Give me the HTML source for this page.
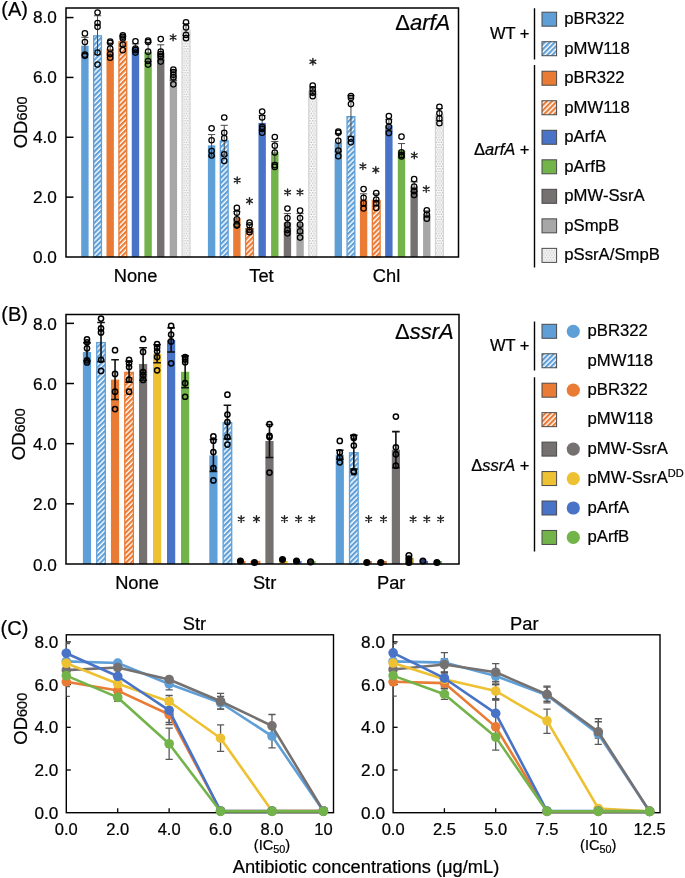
<!DOCTYPE html><html><head><meta charset="utf-8"><style>html,body{margin:0;padding:0;background:#fff}svg{display:block;will-change:transform}text{font-family:"Liberation Sans", sans-serif;fill:#000;stroke:#000;stroke-width:0.22px}</style></head><body>
<svg width="685" height="878" viewBox="0 0 685 878">
<rect width="685" height="878" fill="#fff"/>
<defs>
<pattern id="hb" patternUnits="userSpaceOnUse" width="3.6" height="3.6" patternTransform="rotate(45)"><rect width="3.6" height="3.6" fill="#fff"/><rect width="2.2" height="3.6" fill="#5F9FD8"/></pattern>
<pattern id="ho" patternUnits="userSpaceOnUse" width="3.6" height="3.6" patternTransform="rotate(45)"><rect width="3.6" height="3.6" fill="#fff"/><rect width="2.2" height="3.6" fill="#E97B35"/></pattern>
<pattern id="dots" patternUnits="userSpaceOnUse" width="2.6" height="4.8"><rect width="2.6" height="4.8" fill="#f7f7f7"/><rect x="0.2" y="0.3" width="1.0" height="1.0" fill="#a0a0a0"/><rect x="1.5" y="2.7" width="1.0" height="1.0" fill="#a0a0a0"/></pattern>
<clipPath id="clipL"><rect x="66.3" y="634.8" width="267.2" height="177.9"/></clipPath>
<clipPath id="clipR"><rect x="393.1" y="634.8" width="266.9" height="177.9"/></clipPath>
</defs>
<rect x="81.20" y="45.69" width="7.40" height="211.31" fill="#5F9FD8"/>
<rect x="93.64" y="35.82" width="7.80" height="221.18" fill="url(#hb)" stroke="#5F9FD8" stroke-width="1.3"/>
<rect x="106.48" y="48.99" width="7.40" height="208.01" fill="#E97B35"/>
<rect x="118.92" y="41.80" width="7.80" height="215.20" fill="url(#ho)" stroke="#E97B35" stroke-width="1.3"/>
<rect x="131.76" y="47.49" width="7.40" height="209.51" fill="#4873C6"/>
<rect x="144.40" y="51.98" width="7.40" height="205.02" fill="#72B34A"/>
<rect x="157.04" y="52.58" width="7.40" height="204.42" fill="#767171"/>
<rect x="169.68" y="75.32" width="7.40" height="181.68" fill="#A7A7A7"/>
<rect x="182.02" y="30.03" width="8.00" height="226.97" fill="url(#dots)" stroke="#d4d4d4" stroke-width="1.2"/>
<path d="M84.90 37.31V54.07M81.30 37.31H88.50M81.30 54.07H88.50" stroke="#4a4a4a" stroke-width="1.0" fill="none"/>
<circle cx="84.90" cy="33.42" r="2.7" fill="none" stroke="#000" stroke-width="1.25"/>
<circle cx="84.90" cy="42.10" r="2.7" fill="none" stroke="#000" stroke-width="1.25"/>
<circle cx="84.90" cy="54.67" r="2.7" fill="none" stroke="#000" stroke-width="1.25"/>
<circle cx="84.90" cy="55.87" r="2.7" fill="none" stroke="#000" stroke-width="1.25"/>
<path d="M97.54 15.76V54.67M93.94 15.76H101.14M93.94 54.67H101.14" stroke="#4a4a4a" stroke-width="1.0" fill="none"/>
<circle cx="97.54" cy="12.47" r="2.7" fill="none" stroke="#000" stroke-width="1.25"/>
<circle cx="97.54" cy="22.95" r="2.7" fill="none" stroke="#000" stroke-width="1.25"/>
<circle cx="97.54" cy="26.84" r="2.7" fill="none" stroke="#000" stroke-width="1.25"/>
<circle cx="97.54" cy="52.58" r="2.7" fill="none" stroke="#000" stroke-width="1.25"/>
<circle cx="97.54" cy="64.55" r="2.7" fill="none" stroke="#000" stroke-width="1.25"/>
<path d="M110.18 43.00V54.97M106.58 43.00H113.78M106.58 54.97H113.78" stroke="#4a4a4a" stroke-width="1.0" fill="none"/>
<circle cx="110.18" cy="41.50" r="2.7" fill="none" stroke="#000" stroke-width="1.25"/>
<circle cx="110.18" cy="42.70" r="2.7" fill="none" stroke="#000" stroke-width="1.25"/>
<circle cx="110.18" cy="48.69" r="2.7" fill="none" stroke="#000" stroke-width="1.25"/>
<circle cx="110.18" cy="54.07" r="2.7" fill="none" stroke="#000" stroke-width="1.25"/>
<circle cx="110.18" cy="57.67" r="2.7" fill="none" stroke="#000" stroke-width="1.25"/>
<path d="M122.82 36.12V46.29M119.22 36.12H126.42M119.22 46.29H126.42" stroke="#4a4a4a" stroke-width="1.0" fill="none"/>
<circle cx="122.82" cy="35.22" r="2.7" fill="none" stroke="#000" stroke-width="1.25"/>
<circle cx="122.82" cy="36.72" r="2.7" fill="none" stroke="#000" stroke-width="1.25"/>
<circle cx="122.82" cy="38.51" r="2.7" fill="none" stroke="#000" stroke-width="1.25"/>
<circle cx="122.82" cy="44.50" r="2.7" fill="none" stroke="#000" stroke-width="1.25"/>
<circle cx="122.82" cy="50.18" r="2.7" fill="none" stroke="#000" stroke-width="1.25"/>
<path d="M135.46 43.90V51.08M131.86 43.90H139.06M131.86 51.08H139.06" stroke="#4a4a4a" stroke-width="1.0" fill="none"/>
<circle cx="135.46" cy="41.20" r="2.7" fill="none" stroke="#000" stroke-width="1.25"/>
<circle cx="135.46" cy="48.69" r="2.7" fill="none" stroke="#000" stroke-width="1.25"/>
<circle cx="135.46" cy="50.18" r="2.7" fill="none" stroke="#000" stroke-width="1.25"/>
<circle cx="135.46" cy="52.58" r="2.7" fill="none" stroke="#000" stroke-width="1.25"/>
<path d="M148.10 42.40V61.56M144.50 42.40H151.70M144.50 61.56H151.70" stroke="#4a4a4a" stroke-width="1.0" fill="none"/>
<circle cx="148.10" cy="40.61" r="2.7" fill="none" stroke="#000" stroke-width="1.25"/>
<circle cx="148.10" cy="42.10" r="2.7" fill="none" stroke="#000" stroke-width="1.25"/>
<circle cx="148.10" cy="51.68" r="2.7" fill="none" stroke="#000" stroke-width="1.25"/>
<circle cx="148.10" cy="60.96" r="2.7" fill="none" stroke="#000" stroke-width="1.25"/>
<circle cx="148.10" cy="64.55" r="2.7" fill="none" stroke="#000" stroke-width="1.25"/>
<path d="M160.74 44.80V60.36M157.14 44.80H164.34M157.14 60.36H164.34" stroke="#4a4a4a" stroke-width="1.0" fill="none"/>
<circle cx="160.74" cy="39.11" r="2.7" fill="none" stroke="#000" stroke-width="1.25"/>
<circle cx="160.74" cy="51.68" r="2.7" fill="none" stroke="#000" stroke-width="1.25"/>
<circle cx="160.74" cy="54.07" r="2.7" fill="none" stroke="#000" stroke-width="1.25"/>
<circle cx="160.74" cy="56.47" r="2.7" fill="none" stroke="#000" stroke-width="1.25"/>
<circle cx="160.74" cy="61.56" r="2.7" fill="none" stroke="#000" stroke-width="1.25"/>
<path d="M173.38 70.24V80.41M169.78 70.24H176.98M169.78 80.41H176.98" stroke="#4a4a4a" stroke-width="1.0" fill="none"/>
<circle cx="173.38" cy="69.64" r="2.7" fill="none" stroke="#000" stroke-width="1.25"/>
<circle cx="173.38" cy="72.03" r="2.7" fill="none" stroke="#000" stroke-width="1.25"/>
<circle cx="173.38" cy="74.73" r="2.7" fill="none" stroke="#000" stroke-width="1.25"/>
<circle cx="173.38" cy="77.42" r="2.7" fill="none" stroke="#000" stroke-width="1.25"/>
<circle cx="173.38" cy="84.30" r="2.7" fill="none" stroke="#000" stroke-width="1.25"/>
<path d="M186.02 23.55V35.52M182.42 23.55H189.62M182.42 35.52H189.62" stroke="#4a4a4a" stroke-width="1.0" fill="none"/>
<circle cx="186.02" cy="22.35" r="2.7" fill="none" stroke="#000" stroke-width="1.25"/>
<circle cx="186.02" cy="27.44" r="2.7" fill="none" stroke="#000" stroke-width="1.25"/>
<circle cx="186.02" cy="34.92" r="2.7" fill="none" stroke="#000" stroke-width="1.25"/>
<circle cx="186.02" cy="38.21" r="2.7" fill="none" stroke="#000" stroke-width="1.25"/>
<rect x="207.90" y="145.36" width="7.40" height="111.64" fill="#5F9FD8"/>
<rect x="220.34" y="140.87" width="7.80" height="116.13" fill="url(#hb)" stroke="#5F9FD8" stroke-width="1.3"/>
<rect x="233.18" y="218.09" width="7.40" height="38.91" fill="#E97B35"/>
<rect x="245.62" y="228.57" width="7.80" height="28.43" fill="url(#ho)" stroke="#E97B35" stroke-width="1.3"/>
<rect x="258.46" y="122.91" width="7.40" height="134.09" fill="#4873C6"/>
<rect x="271.10" y="152.25" width="7.40" height="104.75" fill="#72B34A"/>
<rect x="283.74" y="222.58" width="7.40" height="34.42" fill="#767171"/>
<rect x="296.38" y="223.48" width="7.40" height="33.52" fill="#A7A7A7"/>
<rect x="308.72" y="91.09" width="8.00" height="165.91" fill="url(#dots)" stroke="#d4d4d4" stroke-width="1.2"/>
<path d="M211.60 134.59V156.14M208.00 134.59H215.20M208.00 156.14H215.20" stroke="#4a4a4a" stroke-width="1.0" fill="none"/>
<circle cx="211.60" cy="128.30" r="2.7" fill="none" stroke="#000" stroke-width="1.25"/>
<circle cx="211.60" cy="140.27" r="2.7" fill="none" stroke="#000" stroke-width="1.25"/>
<circle cx="211.60" cy="151.05" r="2.7" fill="none" stroke="#000" stroke-width="1.25"/>
<circle cx="211.60" cy="155.54" r="2.7" fill="none" stroke="#000" stroke-width="1.25"/>
<path d="M224.24 125.31V155.24M220.64 125.31H227.84M220.64 155.24H227.84" stroke="#4a4a4a" stroke-width="1.0" fill="none"/>
<circle cx="224.24" cy="117.53" r="2.7" fill="none" stroke="#000" stroke-width="1.25"/>
<circle cx="224.24" cy="132.79" r="2.7" fill="none" stroke="#000" stroke-width="1.25"/>
<circle cx="224.24" cy="138.18" r="2.7" fill="none" stroke="#000" stroke-width="1.25"/>
<circle cx="224.24" cy="154.34" r="2.7" fill="none" stroke="#000" stroke-width="1.25"/>
<circle cx="224.24" cy="160.92" r="2.7" fill="none" stroke="#000" stroke-width="1.25"/>
<path d="M236.88 211.51V224.68M233.28 211.51H240.48M233.28 224.68H240.48" stroke="#4a4a4a" stroke-width="1.0" fill="none"/>
<circle cx="236.88" cy="207.91" r="2.7" fill="none" stroke="#000" stroke-width="1.25"/>
<circle cx="236.88" cy="212.70" r="2.7" fill="none" stroke="#000" stroke-width="1.25"/>
<circle cx="236.88" cy="219.29" r="2.7" fill="none" stroke="#000" stroke-width="1.25"/>
<circle cx="236.88" cy="224.68" r="2.7" fill="none" stroke="#000" stroke-width="1.25"/>
<circle cx="236.88" cy="225.57" r="2.7" fill="none" stroke="#000" stroke-width="1.25"/>
<path d="M249.52 224.38V231.56M245.92 224.38H253.12M245.92 231.56H253.12" stroke="#4a4a4a" stroke-width="1.0" fill="none"/>
<circle cx="249.52" cy="222.58" r="2.7" fill="none" stroke="#000" stroke-width="1.25"/>
<circle cx="249.52" cy="225.27" r="2.7" fill="none" stroke="#000" stroke-width="1.25"/>
<circle cx="249.52" cy="230.06" r="2.7" fill="none" stroke="#000" stroke-width="1.25"/>
<circle cx="249.52" cy="232.16" r="2.7" fill="none" stroke="#000" stroke-width="1.25"/>
<path d="M262.16 115.43V130.40M258.56 115.43H265.76M258.56 130.40H265.76" stroke="#4a4a4a" stroke-width="1.0" fill="none"/>
<circle cx="262.16" cy="111.54" r="2.7" fill="none" stroke="#000" stroke-width="1.25"/>
<circle cx="262.16" cy="117.53" r="2.7" fill="none" stroke="#000" stroke-width="1.25"/>
<circle cx="262.16" cy="126.80" r="2.7" fill="none" stroke="#000" stroke-width="1.25"/>
<circle cx="262.16" cy="128.90" r="2.7" fill="none" stroke="#000" stroke-width="1.25"/>
<circle cx="262.16" cy="132.79" r="2.7" fill="none" stroke="#000" stroke-width="1.25"/>
<path d="M274.80 141.47V163.02M271.20 141.47H278.40M271.20 163.02H278.40" stroke="#4a4a4a" stroke-width="1.0" fill="none"/>
<circle cx="274.80" cy="136.98" r="2.7" fill="none" stroke="#000" stroke-width="1.25"/>
<circle cx="274.80" cy="145.66" r="2.7" fill="none" stroke="#000" stroke-width="1.25"/>
<circle cx="274.80" cy="152.54" r="2.7" fill="none" stroke="#000" stroke-width="1.25"/>
<circle cx="274.80" cy="165.11" r="2.7" fill="none" stroke="#000" stroke-width="1.25"/>
<circle cx="274.80" cy="166.91" r="2.7" fill="none" stroke="#000" stroke-width="1.25"/>
<path d="M287.44 213.60V231.56M283.84 213.60H291.04M283.84 231.56H291.04" stroke="#4a4a4a" stroke-width="1.0" fill="none"/>
<circle cx="287.44" cy="208.51" r="2.7" fill="none" stroke="#000" stroke-width="1.25"/>
<circle cx="287.44" cy="218.09" r="2.7" fill="none" stroke="#000" stroke-width="1.25"/>
<circle cx="287.44" cy="224.68" r="2.7" fill="none" stroke="#000" stroke-width="1.25"/>
<circle cx="287.44" cy="230.06" r="2.7" fill="none" stroke="#000" stroke-width="1.25"/>
<circle cx="287.44" cy="233.36" r="2.7" fill="none" stroke="#000" stroke-width="1.25"/>
<path d="M300.08 213.60V233.36M296.48 213.60H303.68M296.48 233.36H303.68" stroke="#4a4a4a" stroke-width="1.0" fill="none"/>
<circle cx="300.08" cy="210.61" r="2.7" fill="none" stroke="#000" stroke-width="1.25"/>
<circle cx="300.08" cy="218.09" r="2.7" fill="none" stroke="#000" stroke-width="1.25"/>
<circle cx="300.08" cy="224.68" r="2.7" fill="none" stroke="#000" stroke-width="1.25"/>
<circle cx="300.08" cy="231.26" r="2.7" fill="none" stroke="#000" stroke-width="1.25"/>
<circle cx="300.08" cy="237.55" r="2.7" fill="none" stroke="#000" stroke-width="1.25"/>
<path d="M312.72 87.00V94.18M309.12 87.00H316.32M309.12 94.18H316.32" stroke="#4a4a4a" stroke-width="1.0" fill="none"/>
<circle cx="312.72" cy="85.50" r="2.7" fill="none" stroke="#000" stroke-width="1.25"/>
<circle cx="312.72" cy="89.39" r="2.7" fill="none" stroke="#000" stroke-width="1.25"/>
<circle cx="312.72" cy="92.68" r="2.7" fill="none" stroke="#000" stroke-width="1.25"/>
<circle cx="312.72" cy="96.28" r="2.7" fill="none" stroke="#000" stroke-width="1.25"/>
<rect x="334.60" y="142.37" width="7.40" height="114.63" fill="#5F9FD8"/>
<rect x="347.04" y="116.63" width="7.80" height="140.37" fill="url(#hb)" stroke="#5F9FD8" stroke-width="1.3"/>
<rect x="359.88" y="199.83" width="7.40" height="57.17" fill="#E97B35"/>
<rect x="372.32" y="200.43" width="7.80" height="56.57" fill="url(#ho)" stroke="#E97B35" stroke-width="1.3"/>
<rect x="385.16" y="125.31" width="7.40" height="131.69" fill="#4873C6"/>
<rect x="397.80" y="150.45" width="7.40" height="106.55" fill="#72B34A"/>
<rect x="410.44" y="186.66" width="7.40" height="70.34" fill="#767171"/>
<rect x="423.08" y="213.90" width="7.40" height="43.10" fill="#A7A7A7"/>
<rect x="435.42" y="115.03" width="8.00" height="141.97" fill="url(#dots)" stroke="#d4d4d4" stroke-width="1.2"/>
<path d="M338.30 133.39V151.35M334.70 133.39H341.90M334.70 151.35H341.90" stroke="#4a4a4a" stroke-width="1.0" fill="none"/>
<circle cx="338.30" cy="131.59" r="2.7" fill="none" stroke="#000" stroke-width="1.25"/>
<circle cx="338.30" cy="132.79" r="2.7" fill="none" stroke="#000" stroke-width="1.25"/>
<circle cx="338.30" cy="140.87" r="2.7" fill="none" stroke="#000" stroke-width="1.25"/>
<circle cx="338.30" cy="150.45" r="2.7" fill="none" stroke="#000" stroke-width="1.25"/>
<circle cx="338.30" cy="156.14" r="2.7" fill="none" stroke="#000" stroke-width="1.25"/>
<path d="M350.94 95.38V136.68M347.34 95.38H354.54M347.34 136.68H354.54" stroke="#4a4a4a" stroke-width="1.0" fill="none"/>
<circle cx="350.94" cy="95.98" r="2.7" fill="none" stroke="#000" stroke-width="1.25"/>
<circle cx="350.94" cy="98.07" r="2.7" fill="none" stroke="#000" stroke-width="1.25"/>
<circle cx="350.94" cy="104.06" r="2.7" fill="none" stroke="#000" stroke-width="1.25"/>
<circle cx="350.94" cy="138.78" r="2.7" fill="none" stroke="#000" stroke-width="1.25"/>
<circle cx="350.94" cy="142.37" r="2.7" fill="none" stroke="#000" stroke-width="1.25"/>
<path d="M363.58 193.85V205.82M359.98 193.85H367.18M359.98 205.82H367.18" stroke="#4a4a4a" stroke-width="1.0" fill="none"/>
<circle cx="363.58" cy="189.06" r="2.7" fill="none" stroke="#000" stroke-width="1.25"/>
<circle cx="363.58" cy="197.74" r="2.7" fill="none" stroke="#000" stroke-width="1.25"/>
<circle cx="363.58" cy="203.13" r="2.7" fill="none" stroke="#000" stroke-width="1.25"/>
<circle cx="363.58" cy="208.51" r="2.7" fill="none" stroke="#000" stroke-width="1.25"/>
<path d="M376.22 193.85V205.82M372.62 193.85H379.82M372.62 205.82H379.82" stroke="#4a4a4a" stroke-width="1.0" fill="none"/>
<circle cx="376.22" cy="192.95" r="2.7" fill="none" stroke="#000" stroke-width="1.25"/>
<circle cx="376.22" cy="199.53" r="2.7" fill="none" stroke="#000" stroke-width="1.25"/>
<circle cx="376.22" cy="203.13" r="2.7" fill="none" stroke="#000" stroke-width="1.25"/>
<circle cx="376.22" cy="207.91" r="2.7" fill="none" stroke="#000" stroke-width="1.25"/>
<path d="M388.86 119.32V131.29M385.26 119.32H392.46M385.26 131.29H392.46" stroke="#4a4a4a" stroke-width="1.0" fill="none"/>
<circle cx="388.86" cy="116.03" r="2.7" fill="none" stroke="#000" stroke-width="1.25"/>
<circle cx="388.86" cy="121.42" r="2.7" fill="none" stroke="#000" stroke-width="1.25"/>
<circle cx="388.86" cy="126.80" r="2.7" fill="none" stroke="#000" stroke-width="1.25"/>
<circle cx="388.86" cy="133.09" r="2.7" fill="none" stroke="#000" stroke-width="1.25"/>
<path d="M401.50 143.57V157.33M397.90 143.57H405.10M397.90 157.33H405.10" stroke="#4a4a4a" stroke-width="1.0" fill="none"/>
<circle cx="401.50" cy="136.68" r="2.7" fill="none" stroke="#000" stroke-width="1.25"/>
<circle cx="401.50" cy="152.25" r="2.7" fill="none" stroke="#000" stroke-width="1.25"/>
<circle cx="401.50" cy="154.94" r="2.7" fill="none" stroke="#000" stroke-width="1.25"/>
<circle cx="401.50" cy="156.44" r="2.7" fill="none" stroke="#000" stroke-width="1.25"/>
<path d="M414.14 181.88V191.45M410.54 181.88H417.74M410.54 191.45H417.74" stroke="#4a4a4a" stroke-width="1.0" fill="none"/>
<circle cx="414.14" cy="179.18" r="2.7" fill="none" stroke="#000" stroke-width="1.25"/>
<circle cx="414.14" cy="186.66" r="2.7" fill="none" stroke="#000" stroke-width="1.25"/>
<circle cx="414.14" cy="191.15" r="2.7" fill="none" stroke="#000" stroke-width="1.25"/>
<circle cx="414.14" cy="195.04" r="2.7" fill="none" stroke="#000" stroke-width="1.25"/>
<path d="M426.78 210.91V216.89M423.18 210.91H430.38M423.18 216.89H430.38" stroke="#4a4a4a" stroke-width="1.0" fill="none"/>
<circle cx="426.78" cy="210.31" r="2.7" fill="none" stroke="#000" stroke-width="1.25"/>
<circle cx="426.78" cy="214.50" r="2.7" fill="none" stroke="#000" stroke-width="1.25"/>
<circle cx="426.78" cy="218.69" r="2.7" fill="none" stroke="#000" stroke-width="1.25"/>
<path d="M439.42 108.55V120.52M435.82 108.55H443.02M435.82 120.52H443.02" stroke="#4a4a4a" stroke-width="1.0" fill="none"/>
<circle cx="439.42" cy="106.75" r="2.7" fill="none" stroke="#000" stroke-width="1.25"/>
<circle cx="439.42" cy="113.34" r="2.7" fill="none" stroke="#000" stroke-width="1.25"/>
<circle cx="439.42" cy="118.42" r="2.7" fill="none" stroke="#000" stroke-width="1.25"/>
<circle cx="439.42" cy="123.21" r="2.7" fill="none" stroke="#000" stroke-width="1.25"/>
<path d="M173.10 34.10L173.10 40.70M170.24 35.75L175.96 39.05M175.96 35.75L170.24 39.05" stroke="#222" stroke-width="1.4" stroke-linecap="round"/>
<path d="M312.90 58.50L312.90 65.10M310.04 60.15L315.76 63.45M315.76 60.15L310.04 63.45" stroke="#222" stroke-width="1.4" stroke-linecap="round"/>
<path d="M237.20 177.00L237.20 183.60M234.34 178.65L240.06 181.95M240.06 178.65L234.34 181.95" stroke="#222" stroke-width="1.4" stroke-linecap="round"/>
<path d="M249.50 197.60L249.50 204.20M246.64 199.25L252.36 202.55M252.36 199.25L246.64 202.55" stroke="#222" stroke-width="1.4" stroke-linecap="round"/>
<path d="M287.60 188.90L287.60 195.50M284.74 190.55L290.46 193.85M290.46 190.55L284.74 193.85" stroke="#222" stroke-width="1.4" stroke-linecap="round"/>
<path d="M300.00 188.90L300.00 195.50M297.14 190.55L302.86 193.85M302.86 190.55L297.14 193.85" stroke="#222" stroke-width="1.4" stroke-linecap="round"/>
<path d="M362.90 163.00L362.90 169.60M360.04 164.65L365.76 167.95M365.76 164.65L360.04 167.95" stroke="#222" stroke-width="1.4" stroke-linecap="round"/>
<path d="M375.80 166.60L375.80 173.20M372.94 168.25L378.66 171.55M378.66 168.25L372.94 171.55" stroke="#222" stroke-width="1.4" stroke-linecap="round"/>
<path d="M414.30 152.10L414.30 158.70M411.44 153.75L417.16 157.05M417.16 153.75L411.44 157.05" stroke="#222" stroke-width="1.4" stroke-linecap="round"/>
<path d="M426.20 185.70L426.20 192.30M423.34 187.35L429.06 190.65M429.06 187.35L423.34 190.65" stroke="#222" stroke-width="1.4" stroke-linecap="round"/>
<rect x="66" y="8" width="392.5" height="249" fill="none" stroke="#000" stroke-width="1.5"/>
<path d="M66 197.14H73.5" stroke="#000" stroke-width="1.5"/>
<path d="M66 137.28H73.5" stroke="#000" stroke-width="1.5"/>
<path d="M66 77.42H73.5" stroke="#000" stroke-width="1.5"/>
<path d="M66 17.56H73.5" stroke="#000" stroke-width="1.5"/>
<text x="56.80" y="262.90" font-size="17.2" text-anchor="end"  style="">0.0</text>
<text x="56.80" y="203.04" font-size="17.2" text-anchor="end"  style="">2.0</text>
<text x="56.80" y="143.18" font-size="17.2" text-anchor="end"  style="">4.0</text>
<text x="56.80" y="83.32" font-size="17.2" text-anchor="end"  style="">6.0</text>
<text x="56.80" y="23.46" font-size="17.2" text-anchor="end"  style="">8.0</text>
<text x="135.60" y="281.70" font-size="18.3" text-anchor="middle"  style="">None</text>
<text x="261.50" y="281.70" font-size="18.3" text-anchor="middle"  style="">Tet</text>
<text x="386.50" y="281.70" font-size="18.3" text-anchor="middle"  style="">Chl</text>
<text x="450.3" y="29.7" font-size="22" text-anchor="end">Δ<tspan font-style="italic">arfA</tspan></text>
<text transform="translate(26.8,148.3) rotate(-90)" font-size="18.5">OD<tspan font-size="14.5">600</tspan></text>
<text x="1.30" y="15.70" font-size="20" text-anchor="start"  style="">(A)</text>
<path d="M534.5 8.3V59.5M534.5 65V267.6" stroke="#000" stroke-width="1.4"/>
<text x="529.50" y="38.50" font-size="16.5" text-anchor="end"  style="">WT +</text>
<text x="529.5" y="154.6" font-size="16.5" text-anchor="end">Δ<tspan font-style="italic">arfA</tspan> +</text>
<rect x="542" y="12.20" width="14.6" height="14" fill="#5F9FD8" stroke="#4a4a4a" stroke-width="1"/>
<text x="564.3" y="24.00" font-size="16.7">pBR322</text>
<rect x="542" y="41.72" width="14.6" height="14" fill="url(#hb)" stroke="#4a4a4a" stroke-width="1"/>
<text x="564.3" y="53.52" font-size="16.7">pMW118</text>
<rect x="542" y="71.24" width="14.6" height="14" fill="#E97B35" stroke="#4a4a4a" stroke-width="1"/>
<text x="564.3" y="83.04" font-size="16.7">pBR322</text>
<rect x="542" y="100.76" width="14.6" height="14" fill="url(#ho)" stroke="#4a4a4a" stroke-width="1"/>
<text x="564.3" y="112.56" font-size="16.7">pMW118</text>
<rect x="542" y="130.28" width="14.6" height="14" fill="#4873C6" stroke="#4a4a4a" stroke-width="1"/>
<text x="564.3" y="142.08" font-size="16.7">pArfA</text>
<rect x="542" y="159.80" width="14.6" height="14" fill="#72B34A" stroke="#4a4a4a" stroke-width="1"/>
<text x="564.3" y="171.60" font-size="16.7">pArfB</text>
<rect x="542" y="189.32" width="14.6" height="14" fill="#767171" stroke="#4a4a4a" stroke-width="1"/>
<text x="564.3" y="201.12" font-size="16.7">pMW-SsrA</text>
<rect x="542" y="218.84" width="14.6" height="14" fill="#A7A7A7" stroke="#4a4a4a" stroke-width="1"/>
<text x="564.3" y="230.64" font-size="16.7">pSmpB</text>
<rect x="542" y="248.36" width="14.6" height="14" fill="url(#dots)" stroke="#4a4a4a" stroke-width="1"/>
<text x="564.3" y="260.16" font-size="16.7">pSsrA/SmpB</text>
<rect x="82.90" y="351.94" width="8.20" height="212.06" fill="#5F9FD8"/>
<rect x="96.72" y="342.61" width="8.60" height="221.39" fill="url(#hb)" stroke="#5F9FD8" stroke-width="1.3"/>
<rect x="110.94" y="379.61" width="8.20" height="184.39" fill="#E97B35"/>
<rect x="124.76" y="372.39" width="8.60" height="191.61" fill="url(#ho)" stroke="#E97B35" stroke-width="1.3"/>
<rect x="138.98" y="363.97" width="8.20" height="200.03" fill="#767171"/>
<rect x="153.00" y="353.74" width="8.20" height="210.26" fill="#EEC132"/>
<rect x="167.02" y="339.90" width="8.20" height="224.10" fill="#4873C6"/>
<rect x="181.04" y="371.79" width="8.20" height="192.21" fill="#72B34A"/>
<path d="M87.00 342.91V360.96M83.20 342.91H90.80M83.20 360.96H90.80" stroke="#111" stroke-width="1.6" fill="none"/>
<circle cx="87.00" cy="339.30" r="2.6" fill="none" stroke="#000" stroke-width="1.5"/>
<circle cx="87.00" cy="342.31" r="2.6" fill="none" stroke="#000" stroke-width="1.5"/>
<circle cx="87.00" cy="348.33" r="2.6" fill="none" stroke="#000" stroke-width="1.5"/>
<circle cx="87.00" cy="360.36" r="2.6" fill="none" stroke="#000" stroke-width="1.5"/>
<circle cx="87.00" cy="362.46" r="2.6" fill="none" stroke="#000" stroke-width="1.5"/>
<path d="M101.02 322.46V361.56M97.22 322.46H104.82M97.22 361.56H104.82" stroke="#111" stroke-width="1.6" fill="none"/>
<circle cx="101.02" cy="318.55" r="2.6" fill="none" stroke="#000" stroke-width="1.5"/>
<circle cx="101.02" cy="328.47" r="2.6" fill="none" stroke="#000" stroke-width="1.5"/>
<circle cx="101.02" cy="332.38" r="2.6" fill="none" stroke="#000" stroke-width="1.5"/>
<circle cx="101.02" cy="359.76" r="2.6" fill="none" stroke="#000" stroke-width="1.5"/>
<circle cx="101.02" cy="370.89" r="2.6" fill="none" stroke="#000" stroke-width="1.5"/>
<path d="M115.04 359.76V399.46M111.24 359.76H118.84M111.24 399.46H118.84" stroke="#111" stroke-width="1.6" fill="none"/>
<circle cx="115.04" cy="350.13" r="2.6" fill="none" stroke="#000" stroke-width="1.5"/>
<circle cx="115.04" cy="373.89" r="2.6" fill="none" stroke="#000" stroke-width="1.5"/>
<circle cx="115.04" cy="391.64" r="2.6" fill="none" stroke="#000" stroke-width="1.5"/>
<circle cx="115.04" cy="409.09" r="2.6" fill="none" stroke="#000" stroke-width="1.5"/>
<path d="M129.06 361.26V382.32M125.26 361.26H132.86M125.26 382.32H132.86" stroke="#111" stroke-width="1.6" fill="none"/>
<circle cx="129.06" cy="359.76" r="2.6" fill="none" stroke="#000" stroke-width="1.5"/>
<circle cx="129.06" cy="363.37" r="2.6" fill="none" stroke="#000" stroke-width="1.5"/>
<circle cx="129.06" cy="366.98" r="2.6" fill="none" stroke="#000" stroke-width="1.5"/>
<circle cx="129.06" cy="379.61" r="2.6" fill="none" stroke="#000" stroke-width="1.5"/>
<circle cx="129.06" cy="391.64" r="2.6" fill="none" stroke="#000" stroke-width="1.5"/>
<path d="M143.08 347.72V380.21M139.28 347.72H146.88M139.28 380.21H146.88" stroke="#111" stroke-width="1.6" fill="none"/>
<circle cx="143.08" cy="339.00" r="2.6" fill="none" stroke="#000" stroke-width="1.5"/>
<circle cx="143.08" cy="351.94" r="2.6" fill="none" stroke="#000" stroke-width="1.5"/>
<circle cx="143.08" cy="372.09" r="2.6" fill="none" stroke="#000" stroke-width="1.5"/>
<circle cx="143.08" cy="375.10" r="2.6" fill="none" stroke="#000" stroke-width="1.5"/>
<circle cx="143.08" cy="379.91" r="2.6" fill="none" stroke="#000" stroke-width="1.5"/>
<path d="M157.10 344.72V362.76M153.30 344.72H160.90M153.30 362.76H160.90" stroke="#111" stroke-width="1.6" fill="none"/>
<circle cx="157.10" cy="344.12" r="2.6" fill="none" stroke="#000" stroke-width="1.5"/>
<circle cx="157.10" cy="347.72" r="2.6" fill="none" stroke="#000" stroke-width="1.5"/>
<circle cx="157.10" cy="351.33" r="2.6" fill="none" stroke="#000" stroke-width="1.5"/>
<circle cx="157.10" cy="357.05" r="2.6" fill="none" stroke="#000" stroke-width="1.5"/>
<circle cx="157.10" cy="370.28" r="2.6" fill="none" stroke="#000" stroke-width="1.5"/>
<path d="M171.12 327.87V351.94M167.32 327.87H174.92M167.32 351.94H174.92" stroke="#111" stroke-width="1.6" fill="none"/>
<circle cx="171.12" cy="325.77" r="2.6" fill="none" stroke="#000" stroke-width="1.5"/>
<circle cx="171.12" cy="334.49" r="2.6" fill="none" stroke="#000" stroke-width="1.5"/>
<circle cx="171.12" cy="341.41" r="2.6" fill="none" stroke="#000" stroke-width="1.5"/>
<circle cx="171.12" cy="363.37" r="2.6" fill="none" stroke="#000" stroke-width="1.5"/>
<path d="M185.14 355.85V387.73M181.34 355.85H188.94M181.34 387.73H188.94" stroke="#111" stroke-width="1.6" fill="none"/>
<circle cx="185.14" cy="357.05" r="2.6" fill="none" stroke="#000" stroke-width="1.5"/>
<circle cx="185.14" cy="359.46" r="2.6" fill="none" stroke="#000" stroke-width="1.5"/>
<circle cx="185.14" cy="362.16" r="2.6" fill="none" stroke="#000" stroke-width="1.5"/>
<circle cx="185.14" cy="383.22" r="2.6" fill="none" stroke="#000" stroke-width="1.5"/>
<circle cx="185.14" cy="396.76" r="2.6" fill="none" stroke="#000" stroke-width="1.5"/>
<rect x="209.30" y="455.41" width="8.20" height="108.59" fill="#5F9FD8"/>
<rect x="223.12" y="422.62" width="8.60" height="141.38" fill="url(#hb)" stroke="#5F9FD8" stroke-width="1.3"/>
<rect x="237.34" y="560.99" width="8.20" height="3.01" fill="#E97B35"/>
<rect x="251.16" y="561.59" width="8.60" height="2.41" fill="url(#ho)" stroke="#E97B35" stroke-width="1.3"/>
<rect x="265.38" y="440.97" width="8.20" height="123.03" fill="#767171"/>
<rect x="279.40" y="560.99" width="8.20" height="3.01" fill="#EEC132"/>
<rect x="293.42" y="560.99" width="8.20" height="3.01" fill="#4873C6"/>
<rect x="307.44" y="560.99" width="8.20" height="3.01" fill="#72B34A"/>
<path d="M213.40 439.47V471.35M209.60 439.47H217.20M209.60 471.35H217.20" stroke="#111" stroke-width="1.6" fill="none"/>
<circle cx="213.40" cy="436.46" r="2.6" fill="none" stroke="#000" stroke-width="1.5"/>
<circle cx="213.40" cy="440.67" r="2.6" fill="none" stroke="#000" stroke-width="1.5"/>
<circle cx="213.40" cy="452.10" r="2.6" fill="none" stroke="#000" stroke-width="1.5"/>
<circle cx="213.40" cy="468.04" r="2.6" fill="none" stroke="#000" stroke-width="1.5"/>
<circle cx="213.40" cy="480.38" r="2.6" fill="none" stroke="#000" stroke-width="1.5"/>
<path d="M227.42 405.18V438.87M223.62 405.18H231.22M223.62 438.87H231.22" stroke="#111" stroke-width="1.6" fill="none"/>
<circle cx="227.42" cy="394.65" r="2.6" fill="none" stroke="#000" stroke-width="1.5"/>
<circle cx="227.42" cy="414.50" r="2.6" fill="none" stroke="#000" stroke-width="1.5"/>
<circle cx="227.42" cy="422.02" r="2.6" fill="none" stroke="#000" stroke-width="1.5"/>
<circle cx="227.42" cy="437.06" r="2.6" fill="none" stroke="#000" stroke-width="1.5"/>
<circle cx="227.42" cy="444.58" r="2.6" fill="none" stroke="#000" stroke-width="1.5"/>
<circle cx="240.44" cy="560.99" r="2.8" fill="#000" stroke="#000" stroke-width="1.5"/>
<circle cx="254.46" cy="562.50" r="2.8" fill="#000" stroke="#000" stroke-width="1.5"/>
<path d="M269.48 424.43V457.52M265.68 424.43H273.28M265.68 457.52H273.28" stroke="#111" stroke-width="1.6" fill="none"/>
<circle cx="269.48" cy="424.13" r="2.6" fill="none" stroke="#000" stroke-width="1.5"/>
<circle cx="269.48" cy="435.86" r="2.6" fill="none" stroke="#000" stroke-width="1.5"/>
<circle cx="269.48" cy="437.06" r="2.6" fill="none" stroke="#000" stroke-width="1.5"/>
<circle cx="269.48" cy="472.56" r="2.6" fill="none" stroke="#000" stroke-width="1.5"/>
<circle cx="282.50" cy="559.49" r="2.8" fill="#000" stroke="#000" stroke-width="1.5"/>
<circle cx="296.52" cy="560.99" r="2.8" fill="#000" stroke="#000" stroke-width="1.5"/>
<circle cx="310.54" cy="561.89" r="2.8" fill="#2a2a2a" stroke="#000" stroke-width="1.5"/>
<rect x="335.70" y="454.81" width="8.20" height="109.19" fill="#5F9FD8"/>
<rect x="349.52" y="452.70" width="8.60" height="111.30" fill="url(#hb)" stroke="#5F9FD8" stroke-width="1.3"/>
<rect x="363.74" y="560.99" width="8.20" height="3.01" fill="#E97B35"/>
<rect x="377.56" y="561.59" width="8.60" height="2.41" fill="url(#ho)" stroke="#E97B35" stroke-width="1.3"/>
<rect x="391.78" y="449.70" width="8.20" height="114.30" fill="#767171"/>
<rect x="405.80" y="557.98" width="8.20" height="6.02" fill="#EEC132"/>
<rect x="419.82" y="560.99" width="8.20" height="3.01" fill="#4873C6"/>
<rect x="433.84" y="560.99" width="8.20" height="3.01" fill="#72B34A"/>
<path d="M339.80 450.30V459.32M336.00 450.30H343.60M336.00 459.32H343.60" stroke="#111" stroke-width="1.6" fill="none"/>
<circle cx="339.80" cy="440.97" r="2.6" fill="none" stroke="#000" stroke-width="1.5"/>
<circle cx="339.80" cy="452.40" r="2.6" fill="none" stroke="#000" stroke-width="1.5"/>
<circle cx="339.80" cy="457.52" r="2.6" fill="none" stroke="#000" stroke-width="1.5"/>
<circle cx="339.80" cy="462.33" r="2.6" fill="none" stroke="#000" stroke-width="1.5"/>
<path d="M353.82 435.26V468.95M350.02 435.26H357.62M350.02 468.95H357.62" stroke="#111" stroke-width="1.6" fill="none"/>
<circle cx="353.82" cy="436.76" r="2.6" fill="none" stroke="#000" stroke-width="1.5"/>
<circle cx="353.82" cy="437.96" r="2.6" fill="none" stroke="#000" stroke-width="1.5"/>
<circle cx="353.82" cy="445.48" r="2.6" fill="none" stroke="#000" stroke-width="1.5"/>
<circle cx="353.82" cy="471.35" r="2.6" fill="none" stroke="#000" stroke-width="1.5"/>
<circle cx="353.82" cy="472.26" r="2.6" fill="none" stroke="#000" stroke-width="1.5"/>
<circle cx="366.84" cy="562.50" r="2.8" fill="#000" stroke="#000" stroke-width="1.5"/>
<circle cx="380.86" cy="562.50" r="2.8" fill="#000" stroke="#000" stroke-width="1.5"/>
<path d="M395.88 431.65V467.74M392.08 431.65H399.68M392.08 467.74H399.68" stroke="#111" stroke-width="1.6" fill="none"/>
<circle cx="395.88" cy="416.61" r="2.6" fill="none" stroke="#000" stroke-width="1.5"/>
<circle cx="395.88" cy="447.29" r="2.6" fill="none" stroke="#000" stroke-width="1.5"/>
<circle cx="395.88" cy="454.21" r="2.6" fill="none" stroke="#000" stroke-width="1.5"/>
<circle cx="395.88" cy="465.64" r="2.6" fill="none" stroke="#000" stroke-width="1.5"/>
<circle cx="408.90" cy="555.58" r="2.8" fill="none" stroke="#000" stroke-width="1.5"/>
<circle cx="408.90" cy="558.89" r="2.8" fill="#000" stroke="#000" stroke-width="1.5"/>
<circle cx="408.90" cy="562.50" r="2.8" fill="#000" stroke="#000" stroke-width="1.5"/>
<circle cx="422.92" cy="560.99" r="2.8" fill="#2a3a6a" stroke="#000" stroke-width="1.5"/>
<circle cx="436.94" cy="562.50" r="2.8" fill="#000" stroke="#000" stroke-width="1.5"/>
<path d="M241.20 515.80L241.20 522.40M238.34 517.45L244.06 520.75M244.06 517.45L238.34 520.75" stroke="#222" stroke-width="1.4" stroke-linecap="round"/>
<path d="M256.50 515.80L256.50 522.40M253.64 517.45L259.36 520.75M259.36 517.45L253.64 520.75" stroke="#222" stroke-width="1.4" stroke-linecap="round"/>
<path d="M284.50 515.80L284.50 522.40M281.64 517.45L287.36 520.75M287.36 517.45L281.64 520.75" stroke="#222" stroke-width="1.4" stroke-linecap="round"/>
<path d="M298.60 515.80L298.60 522.40M295.74 517.45L301.46 520.75M301.46 517.45L295.74 520.75" stroke="#222" stroke-width="1.4" stroke-linecap="round"/>
<path d="M311.80 515.80L311.80 522.40M308.94 517.45L314.66 520.75M314.66 517.45L308.94 520.75" stroke="#222" stroke-width="1.4" stroke-linecap="round"/>
<path d="M368.70 515.80L368.70 522.40M365.84 517.45L371.56 520.75M371.56 517.45L365.84 520.75" stroke="#222" stroke-width="1.4" stroke-linecap="round"/>
<path d="M383.50 515.80L383.50 522.40M380.64 517.45L386.36 520.75M386.36 517.45L380.64 520.75" stroke="#222" stroke-width="1.4" stroke-linecap="round"/>
<path d="M413.10 515.80L413.10 522.40M410.24 517.45L415.96 520.75M415.96 517.45L410.24 520.75" stroke="#222" stroke-width="1.4" stroke-linecap="round"/>
<path d="M426.80 515.80L426.80 522.40M423.94 517.45L429.66 520.75M429.66 517.45L423.94 520.75" stroke="#222" stroke-width="1.4" stroke-linecap="round"/>
<path d="M440.60 515.80L440.60 522.40M437.74 517.45L443.46 520.75M443.46 517.45L437.74 520.75" stroke="#222" stroke-width="1.4" stroke-linecap="round"/>
<rect x="66" y="314.5" width="393" height="249.5" fill="none" stroke="#000" stroke-width="1.5"/>
<path d="M66 503.84H74" stroke="#000" stroke-width="1.5"/>
<path d="M66 443.68H74" stroke="#000" stroke-width="1.5"/>
<path d="M66 383.52H74" stroke="#000" stroke-width="1.5"/>
<path d="M66 323.36H74" stroke="#000" stroke-width="1.5"/>
<text x="56.80" y="570.60" font-size="17.2" text-anchor="end"  style="">0.0</text>
<text x="56.80" y="510.44" font-size="17.2" text-anchor="end"  style="">2.0</text>
<text x="56.80" y="450.28" font-size="17.2" text-anchor="end"  style="">4.0</text>
<text x="56.80" y="390.12" font-size="17.2" text-anchor="end"  style="">6.0</text>
<text x="56.80" y="329.96" font-size="17.2" text-anchor="end"  style="">8.0</text>
<text x="137.00" y="588.50" font-size="18.3" text-anchor="middle"  style="">None</text>
<text x="264.60" y="588.50" font-size="18.3" text-anchor="middle"  style="">Str</text>
<text x="391.20" y="588.50" font-size="18.3" text-anchor="middle"  style="">Par</text>
<text x="453.8" y="339" font-size="22" text-anchor="end">Δ<tspan font-style="italic">ssrA</tspan></text>
<text transform="translate(25.3,460.2) rotate(-90)" font-size="18.5">OD<tspan font-size="14.5">600</tspan></text>
<text x="1.30" y="320.80" font-size="20" text-anchor="start"  style="">(B)</text>
<path d="M534.5 321.4V370.6M534.5 377.2V551.4" stroke="#000" stroke-width="1.4"/>
<text x="529.50" y="351.30" font-size="16.5" text-anchor="end"  style="">WT +</text>
<text x="529.5" y="470.5" font-size="16.5" text-anchor="end">Δ<tspan font-style="italic">ssrA</tspan> +</text>
<rect x="542" y="324.30" width="14.6" height="14" fill="#5F9FD8" stroke="#4a4a4a" stroke-width="1"/>
<circle cx="573.3" cy="331.30" r="6.6" fill="#5F9FD8"/>
<text x="587.5" y="336.10" font-size="16.7">pBR322</text>
<rect x="542" y="353.75" width="14.6" height="14" fill="url(#hb)" stroke="#4a4a4a" stroke-width="1"/>
<text x="587.5" y="365.55" font-size="16.7">pMW118</text>
<rect x="542" y="383.20" width="14.6" height="14" fill="#E97B35" stroke="#4a4a4a" stroke-width="1"/>
<circle cx="573.3" cy="390.20" r="6.6" fill="#E97B35"/>
<text x="587.5" y="395.00" font-size="16.7">pBR322</text>
<rect x="542" y="412.65" width="14.6" height="14" fill="url(#ho)" stroke="#4a4a4a" stroke-width="1"/>
<text x="587.5" y="424.45" font-size="16.7">pMW118</text>
<rect x="542" y="442.10" width="14.6" height="14" fill="#767171" stroke="#4a4a4a" stroke-width="1"/>
<circle cx="573.3" cy="449.10" r="6.6" fill="#767171"/>
<text x="587.5" y="453.90" font-size="16.7">pMW-SsrA</text>
<rect x="542" y="471.55" width="14.6" height="14" fill="#EEC132" stroke="#4a4a4a" stroke-width="1"/>
<circle cx="573.3" cy="478.55" r="6.6" fill="#EEC132"/>
<text x="587.5" y="483.35" font-size="16.7">pMW-SsrA<tspan font-size="11" dy="-6">DD</tspan></text>
<rect x="542" y="501.00" width="14.6" height="14" fill="#4873C6" stroke="#4a4a4a" stroke-width="1"/>
<circle cx="573.3" cy="508.00" r="6.6" fill="#4873C6"/>
<text x="587.5" y="512.80" font-size="16.7">pArfA</text>
<rect x="542" y="530.45" width="14.6" height="14" fill="#72B34A" stroke="#4a4a4a" stroke-width="1"/>
<circle cx="573.3" cy="537.45" r="6.6" fill="#72B34A"/>
<text x="587.5" y="542.25" font-size="16.7">pArfB</text>
<rect x="66.3" y="634.8" width="267.2" height="177.9000000000001" fill="none" stroke="#000" stroke-width="1.4"/>
<path d="M66.3 770.00H70.8" stroke="#000" stroke-width="1.3"/>
<path d="M66.3 727.30H70.8" stroke="#000" stroke-width="1.3"/>
<path d="M66.3 684.60H70.8" stroke="#000" stroke-width="1.3"/>
<path d="M66.3 641.90H70.8" stroke="#000" stroke-width="1.3"/>
<path d="M117.72 812.7V808.2" stroke="#000" stroke-width="1.3"/>
<path d="M169.14 812.7V808.2" stroke="#000" stroke-width="1.3"/>
<path d="M220.56 812.7V808.2" stroke="#000" stroke-width="1.3"/>
<path d="M271.98 812.7V808.2" stroke="#000" stroke-width="1.3"/>
<g clip-path="url(#clipL)">
<path d="M66.30 643.61V696.34M62.70 643.61H69.90M62.70 696.34H69.90" stroke="#595959" stroke-width="1.3" fill="none"/>
<path d="M66.30 641.90V686.52M62.70 641.90H69.90M62.70 686.52H69.90" stroke="#595959" stroke-width="1.3" fill="none"/>
<path d="M117.72 693.57V701.25M114.12 693.57H121.32M114.12 701.25H121.32" stroke="#595959" stroke-width="1.3" fill="none"/>
<path d="M169.14 677.98V689.94M165.54 677.98H172.74M165.54 689.94H172.74" stroke="#595959" stroke-width="1.3" fill="none"/>
<path d="M169.14 695.49V707.44M165.54 695.49H172.74M165.54 707.44H172.74" stroke="#595959" stroke-width="1.3" fill="none"/>
<path d="M169.14 698.48V722.39M165.54 698.48H172.74M165.54 722.39H172.74" stroke="#595959" stroke-width="1.3" fill="none"/>
<path d="M169.14 704.46V724.52M165.54 704.46H172.74M165.54 724.52H172.74" stroke="#595959" stroke-width="1.3" fill="none"/>
<path d="M169.14 728.15V759.33M165.54 728.15H172.74M165.54 759.33H172.74" stroke="#595959" stroke-width="1.3" fill="none"/>
<path d="M220.56 693.35V709.15M216.96 693.35H224.16M216.96 709.15H224.16" stroke="#595959" stroke-width="1.3" fill="none"/>
<path d="M220.56 696.34V709.15M216.96 696.34H224.16M216.96 709.15H224.16" stroke="#595959" stroke-width="1.3" fill="none"/>
<path d="M220.56 724.95V751.43M216.96 724.95H224.16M216.96 751.43H224.16" stroke="#595959" stroke-width="1.3" fill="none"/>
<path d="M271.98 714.49V737.12M268.38 714.49H275.58M268.38 737.12H275.58" stroke="#595959" stroke-width="1.3" fill="none"/>
<path d="M271.98 724.74V747.80M268.38 724.74H275.58M268.38 747.80H275.58" stroke="#595959" stroke-width="1.3" fill="none"/>
</g>
<polyline points="66.30,661.33 117.72,663.04 169.14,683.96 220.56,702.75 271.98,736.05 323.40,810.99" fill="none" stroke="#5F9FD8" stroke-width="2.6" stroke-linejoin="round"/>
<circle cx="66.30" cy="661.33" r="4.8" fill="#5F9FD8"/>
<circle cx="117.72" cy="663.04" r="4.8" fill="#5F9FD8"/>
<circle cx="169.14" cy="683.96" r="4.8" fill="#5F9FD8"/>
<circle cx="220.56" cy="702.75" r="4.8" fill="#5F9FD8"/>
<circle cx="271.98" cy="736.05" r="4.8" fill="#5F9FD8"/>
<circle cx="323.40" cy="810.99" r="4.8" fill="#5F9FD8"/>
<polyline points="66.30,681.82 117.72,690.58 169.14,714.49 220.56,810.99 271.98,810.99 323.40,810.99" fill="none" stroke="#E97B35" stroke-width="2.6" stroke-linejoin="round"/>
<circle cx="66.30" cy="681.82" r="4.8" fill="#E97B35"/>
<circle cx="117.72" cy="690.58" r="4.8" fill="#E97B35"/>
<circle cx="169.14" cy="714.49" r="4.8" fill="#E97B35"/>
<circle cx="220.56" cy="810.99" r="4.8" fill="#E97B35"/>
<circle cx="271.98" cy="810.99" r="4.8" fill="#E97B35"/>
<circle cx="323.40" cy="810.99" r="4.8" fill="#E97B35"/>
<polyline points="66.30,670.08 117.72,667.52 169.14,679.48 220.56,701.25 271.98,725.81 323.40,810.99" fill="none" stroke="#767171" stroke-width="2.6" stroke-linejoin="round"/>
<circle cx="66.30" cy="670.08" r="4.8" fill="#767171"/>
<circle cx="117.72" cy="667.52" r="4.8" fill="#767171"/>
<circle cx="169.14" cy="679.48" r="4.8" fill="#767171"/>
<circle cx="220.56" cy="701.25" r="4.8" fill="#767171"/>
<circle cx="271.98" cy="725.81" r="4.8" fill="#767171"/>
<circle cx="323.40" cy="810.99" r="4.8" fill="#767171"/>
<polyline points="66.30,663.25 117.72,683.75 169.14,701.47 220.56,738.19 271.98,810.99 323.40,810.99" fill="none" stroke="#EEC132" stroke-width="2.6" stroke-linejoin="round"/>
<circle cx="66.30" cy="663.25" r="4.8" fill="#EEC132"/>
<circle cx="117.72" cy="683.75" r="4.8" fill="#EEC132"/>
<circle cx="169.14" cy="701.47" r="4.8" fill="#EEC132"/>
<circle cx="220.56" cy="738.19" r="4.8" fill="#EEC132"/>
<circle cx="271.98" cy="810.99" r="4.8" fill="#EEC132"/>
<circle cx="323.40" cy="810.99" r="4.8" fill="#EEC132"/>
<polyline points="66.30,653.22 117.72,676.27 169.14,710.43 220.56,810.99 271.98,810.99 323.40,810.99" fill="none" stroke="#4873C6" stroke-width="2.6" stroke-linejoin="round"/>
<circle cx="66.30" cy="653.22" r="4.8" fill="#4873C6"/>
<circle cx="117.72" cy="676.27" r="4.8" fill="#4873C6"/>
<circle cx="169.14" cy="710.43" r="4.8" fill="#4873C6"/>
<circle cx="220.56" cy="810.99" r="4.8" fill="#4873C6"/>
<circle cx="271.98" cy="810.99" r="4.8" fill="#4873C6"/>
<circle cx="323.40" cy="810.99" r="4.8" fill="#4873C6"/>
<polyline points="66.30,675.63 117.72,697.41 169.14,743.74 220.56,811.42 271.98,811.42 323.40,811.42" fill="none" stroke="#72B34A" stroke-width="2.6" stroke-linejoin="round"/>
<circle cx="66.30" cy="675.63" r="4.8" fill="#72B34A"/>
<circle cx="117.72" cy="697.41" r="4.8" fill="#72B34A"/>
<circle cx="169.14" cy="743.74" r="4.8" fill="#72B34A"/>
<circle cx="220.56" cy="811.42" r="4.8" fill="#72B34A"/>
<circle cx="271.98" cy="811.42" r="4.8" fill="#72B34A"/>
<circle cx="323.40" cy="811.42" r="4.8" fill="#72B34A"/>
<rect x="393.1" y="634.8" width="266.9" height="177.9000000000001" fill="none" stroke="#000" stroke-width="1.4"/>
<path d="M393.1 770.00H397.6" stroke="#000" stroke-width="1.3"/>
<path d="M393.1 727.30H397.6" stroke="#000" stroke-width="1.3"/>
<path d="M393.1 684.60H397.6" stroke="#000" stroke-width="1.3"/>
<path d="M393.1 641.90H397.6" stroke="#000" stroke-width="1.3"/>
<path d="M444.40 812.7V808.2" stroke="#000" stroke-width="1.3"/>
<path d="M495.70 812.7V808.2" stroke="#000" stroke-width="1.3"/>
<path d="M547.00 812.7V808.2" stroke="#000" stroke-width="1.3"/>
<path d="M598.30 812.7V808.2" stroke="#000" stroke-width="1.3"/>
<g clip-path="url(#clipR)">
<path d="M393.10 643.61V696.13M389.50 643.61H396.70M389.50 696.13H396.70" stroke="#595959" stroke-width="1.3" fill="none"/>
<path d="M444.40 652.58V676.49M440.80 652.58H448.00M440.80 676.49H448.00" stroke="#595959" stroke-width="1.3" fill="none"/>
<path d="M444.40 658.98V672.43M440.80 658.98H448.00M440.80 672.43H448.00" stroke="#595959" stroke-width="1.3" fill="none"/>
<path d="M444.40 671.79V688.44M440.80 671.79H448.00M440.80 688.44H448.00" stroke="#595959" stroke-width="1.3" fill="none"/>
<path d="M444.40 673.93V686.74M440.80 673.93H448.00M440.80 686.74H448.00" stroke="#595959" stroke-width="1.3" fill="none"/>
<path d="M444.40 688.87V699.33M440.80 688.87H448.00M440.80 699.33H448.00" stroke="#595959" stroke-width="1.3" fill="none"/>
<path d="M495.70 663.68V681.40M492.10 663.68H499.30M492.10 681.40H499.30" stroke="#595959" stroke-width="1.3" fill="none"/>
<path d="M495.70 671.79V683.11M492.10 671.79H499.30M492.10 683.11H499.30" stroke="#595959" stroke-width="1.3" fill="none"/>
<path d="M495.70 684.60V698.69M492.10 684.60H499.30M492.10 698.69H499.30" stroke="#595959" stroke-width="1.3" fill="none"/>
<path d="M495.70 684.60V700.19M492.10 684.60H499.30M492.10 700.19H499.30" stroke="#595959" stroke-width="1.3" fill="none"/>
<path d="M495.70 699.55V750.14M492.10 699.55H499.30M492.10 750.14H499.30" stroke="#595959" stroke-width="1.3" fill="none"/>
<path d="M547.00 686.09V701.25M543.40 686.09H550.60M543.40 701.25H550.60" stroke="#595959" stroke-width="1.3" fill="none"/>
<path d="M547.00 687.16V702.96M543.40 687.16H550.60M543.40 702.96H550.60" stroke="#595959" stroke-width="1.3" fill="none"/>
<path d="M547.00 709.15V733.28M543.40 709.15H550.60M543.40 733.28H550.60" stroke="#595959" stroke-width="1.3" fill="none"/>
<path d="M598.30 718.76V744.38M594.70 718.76H601.90M594.70 744.38H601.90" stroke="#595959" stroke-width="1.3" fill="none"/>
<path d="M598.30 721.75V737.98M594.70 721.75H601.90M594.70 737.98H601.90" stroke="#595959" stroke-width="1.3" fill="none"/>
</g>
<polyline points="393.10,661.33 444.40,662.61 495.70,676.06 547.00,695.28 598.30,733.92 649.60,811.42" fill="none" stroke="#5F9FD8" stroke-width="2.6" stroke-linejoin="round"/>
<circle cx="393.10" cy="661.33" r="4.8" fill="#5F9FD8"/>
<circle cx="444.40" cy="662.61" r="4.8" fill="#5F9FD8"/>
<circle cx="495.70" cy="676.06" r="4.8" fill="#5F9FD8"/>
<circle cx="547.00" cy="695.28" r="4.8" fill="#5F9FD8"/>
<circle cx="598.30" cy="733.92" r="4.8" fill="#5F9FD8"/>
<circle cx="649.60" cy="811.42" r="4.8" fill="#5F9FD8"/>
<polyline points="393.10,681.82 444.40,683.11 495.70,726.87 547.00,811.42 598.30,811.42 649.60,811.42" fill="none" stroke="#E97B35" stroke-width="2.6" stroke-linejoin="round"/>
<circle cx="393.10" cy="681.82" r="4.8" fill="#E97B35"/>
<circle cx="444.40" cy="683.11" r="4.8" fill="#E97B35"/>
<circle cx="495.70" cy="726.87" r="4.8" fill="#E97B35"/>
<circle cx="547.00" cy="811.42" r="4.8" fill="#E97B35"/>
<circle cx="598.30" cy="811.42" r="4.8" fill="#E97B35"/>
<circle cx="649.60" cy="811.42" r="4.8" fill="#E97B35"/>
<polyline points="393.10,669.44 444.40,664.53 495.70,672.22 547.00,694.42 598.30,731.78 649.60,811.42" fill="none" stroke="#767171" stroke-width="2.6" stroke-linejoin="round"/>
<circle cx="393.10" cy="669.44" r="4.8" fill="#767171"/>
<circle cx="444.40" cy="664.53" r="4.8" fill="#767171"/>
<circle cx="495.70" cy="672.22" r="4.8" fill="#767171"/>
<circle cx="547.00" cy="694.42" r="4.8" fill="#767171"/>
<circle cx="598.30" cy="731.78" r="4.8" fill="#767171"/>
<circle cx="649.60" cy="811.42" r="4.8" fill="#767171"/>
<polyline points="393.10,663.04 444.40,679.26 495.70,691.00 547.00,720.89 598.30,808.43 649.60,811.42" fill="none" stroke="#EEC132" stroke-width="2.6" stroke-linejoin="round"/>
<circle cx="393.10" cy="663.04" r="4.8" fill="#EEC132"/>
<circle cx="444.40" cy="679.26" r="4.8" fill="#EEC132"/>
<circle cx="495.70" cy="691.00" r="4.8" fill="#EEC132"/>
<circle cx="547.00" cy="720.89" r="4.8" fill="#EEC132"/>
<circle cx="598.30" cy="808.43" r="4.8" fill="#EEC132"/>
<circle cx="649.60" cy="811.42" r="4.8" fill="#EEC132"/>
<polyline points="393.10,652.79 444.40,678.20 495.70,713.42 547.00,810.99 598.30,810.99 649.60,811.42" fill="none" stroke="#4873C6" stroke-width="2.6" stroke-linejoin="round"/>
<circle cx="393.10" cy="652.79" r="4.8" fill="#4873C6"/>
<circle cx="444.40" cy="678.20" r="4.8" fill="#4873C6"/>
<circle cx="495.70" cy="713.42" r="4.8" fill="#4873C6"/>
<circle cx="547.00" cy="810.99" r="4.8" fill="#4873C6"/>
<circle cx="598.30" cy="810.99" r="4.8" fill="#4873C6"/>
<circle cx="649.60" cy="811.42" r="4.8" fill="#4873C6"/>
<polyline points="393.10,675.63 444.40,694.21 495.70,737.12 547.00,811.42 598.30,811.42 649.60,811.42" fill="none" stroke="#72B34A" stroke-width="2.6" stroke-linejoin="round"/>
<circle cx="393.10" cy="675.63" r="4.8" fill="#72B34A"/>
<circle cx="444.40" cy="694.21" r="4.8" fill="#72B34A"/>
<circle cx="495.70" cy="737.12" r="4.8" fill="#72B34A"/>
<circle cx="547.00" cy="811.42" r="4.8" fill="#72B34A"/>
<circle cx="598.30" cy="811.42" r="4.8" fill="#72B34A"/>
<circle cx="649.60" cy="811.42" r="4.8" fill="#72B34A"/>
<text x="58.30" y="818.60" font-size="17.2" text-anchor="end"  style="">0.0</text>
<text x="385.00" y="818.60" font-size="17.2" text-anchor="end"  style="">0.0</text>
<text x="58.30" y="775.90" font-size="17.2" text-anchor="end"  style="">2.0</text>
<text x="385.00" y="775.90" font-size="17.2" text-anchor="end"  style="">2.0</text>
<text x="58.30" y="733.20" font-size="17.2" text-anchor="end"  style="">4.0</text>
<text x="385.00" y="733.20" font-size="17.2" text-anchor="end"  style="">4.0</text>
<text x="58.30" y="690.50" font-size="17.2" text-anchor="end"  style="">6.0</text>
<text x="385.00" y="690.50" font-size="17.2" text-anchor="end"  style="">6.0</text>
<text x="58.30" y="647.80" font-size="17.2" text-anchor="end"  style="">8.0</text>
<text x="385.00" y="647.80" font-size="17.2" text-anchor="end"  style="">8.0</text>
<text x="66.30" y="835.40" font-size="16.5" text-anchor="middle"  style="">0.0</text>
<text x="117.72" y="835.40" font-size="16.5" text-anchor="middle"  style="">2.0</text>
<text x="169.14" y="835.40" font-size="16.5" text-anchor="middle"  style="">4.0</text>
<text x="220.56" y="835.40" font-size="16.5" text-anchor="middle"  style="">6.0</text>
<text x="271.98" y="835.40" font-size="16.5" text-anchor="middle"  style="">8.0</text>
<text x="323.40" y="835.40" font-size="16.5" text-anchor="middle"  style="">10</text>
<text x="393.10" y="835.40" font-size="16.5" text-anchor="middle"  style="">0.0</text>
<text x="444.40" y="835.40" font-size="16.5" text-anchor="middle"  style="">2.5</text>
<text x="495.70" y="835.40" font-size="16.5" text-anchor="middle"  style="">5.0</text>
<text x="547.00" y="835.40" font-size="16.5" text-anchor="middle"  style="">7.5</text>
<text x="598.30" y="835.40" font-size="16.5" text-anchor="middle"  style="">10</text>
<text x="649.60" y="835.40" font-size="16.5" text-anchor="middle"  style="">12.5</text>
<text x="271.98" y="849.9" font-size="14.6" text-anchor="middle">(IC<tspan font-size="10.8" dy="2.6">50</tspan><tspan dy="-2.6">)</tspan></text>
<text x="598.30" y="849.9" font-size="14.6" text-anchor="middle">(IC<tspan font-size="10.8" dy="2.6">50</tspan><tspan dy="-2.6">)</tspan></text>
<text x="194.50" y="630.00" font-size="18.3" text-anchor="middle"  style="">Str</text>
<text x="524.30" y="630.00" font-size="18.3" text-anchor="middle"  style="">Par</text>
<text x="366.00" y="872.90" font-size="18.3" text-anchor="middle"  style="">Antibiotic concentrations (μg/mL)</text>
<text transform="translate(27.4,744.7) rotate(-90)" font-size="18.5">OD<tspan font-size="14.5">600</tspan></text>
<text x="0.60" y="635.30" font-size="20" text-anchor="start"  style="">(C)</text>
</svg></body></html>
